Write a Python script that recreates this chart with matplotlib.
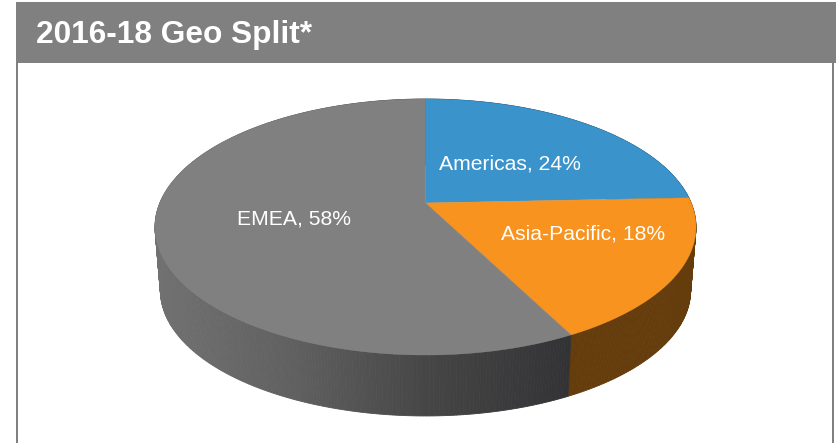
import numpy as np
import matplotlib
matplotlib.use('Agg')
import matplotlib.pyplot as plt
from matplotlib.patches import Polygon, Rectangle
from matplotlib.colors import LinearSegmentedColormap

plt.rcParams['font.family'] = ['Liberation Sans', 'DejaVu Sans']

title = '2016-18 Geo Split*'
regions = ['Americas', 'Asia-Pacific', 'EMEA']
shares = [24, 18, 58]
top_colors = ['#3a93cb', '#f7931e', '#808080']
label_pos = [(509.5, 164.5), (583.5, 233.5), (294.5, 218.5)]

# disc geometry in pixels
cx, cy = 425.5, 203
scale_x, scale_y = 265.7, 123.5
tilt = 0.1875
depth = 64
shrink = 0.98
view_skew = 0.03


def project(theta, bottom=False):
    # theta runs clockwise from 12 o'clock, tilted circle with perspective
    theta = theta + view_skew * np.sin(theta / 2)
    x = np.sin(theta)
    y = np.cos(theta)
    w = 1 + tilt * y
    px = scale_x * x / w
    py = -scale_y * y / w
    if bottom:
        return cx + shrink * px, cy + depth + shrink * py
    return cx + px, cy + py


fig = plt.figure(figsize=(8.37, 4.43), dpi=100)
ax = fig.add_axes([0, 0, 1, 1])
ax.set_xlim(0, 837)
ax.set_ylim(443, 0)
ax.axis('off')

# frame and header band
ax.add_patch(Rectangle((16, 2), 821, 60.5, color='#808080', lw=0))
ax.add_patch(Rectangle((16, 62), 2, 381, color='#808080', lw=0))
ax.add_patch(Rectangle((832.5, 62), 2, 381, color='#808080', lw=0))
ax.text(36, 34.5, title, color='white', fontsize=22.8, fontweight='bold', va='center', ha='left')

edges = 2 * np.pi * np.cumsum([0] + shares) / sum(shares)

# side wall, shaded strip by strip
emea_side = LinearSegmentedColormap.from_list('emea_side', ['#717171', '#606060', '#454545', '#333336'])
for i in range(len(shares)):
    steps = np.linspace(edges[i], edges[i + 1], int(shares[i] * 6) + 2)
    for a, b in zip(steps[:-1], steps[1:]):
        ax1, ay1 = project(a)
        ax2, ay2 = project(b)
        bx1, by1 = project(a, True)
        bx2, by2 = project(b, True)
        if regions[i] == 'EMEA':
            col = emea_side(np.clip((bx1 - 160) / 410, 0, 1))
        elif regions[i] == 'Asia-Pacific':
            col = '#653c0c'
        else:
            col = '#1d4966'
        ax.add_patch(Polygon([(ax1, ay1), (ax2, ay2), (bx2, by2), (bx1, by1)],
                             facecolor=col, edgecolor=col, lw=0.6))

# top face
for i in range(len(shares)):
    t = np.linspace(edges[i], edges[i + 1], 200)
    px, py = project(t)
    pts = [(cx, cy)] + list(zip(px, py))
    ax.add_patch(Polygon(pts, facecolor=top_colors[i], edgecolor=top_colors[i], lw=0.3))

for name, share, (lx, ly) in zip(regions, shares, label_pos):
    ax.text(lx, ly, '{}, {}%'.format(name, share), color='white', fontsize=15.2,
            ha='center', va='center')

fig.savefig('out.png', dpi=100)
